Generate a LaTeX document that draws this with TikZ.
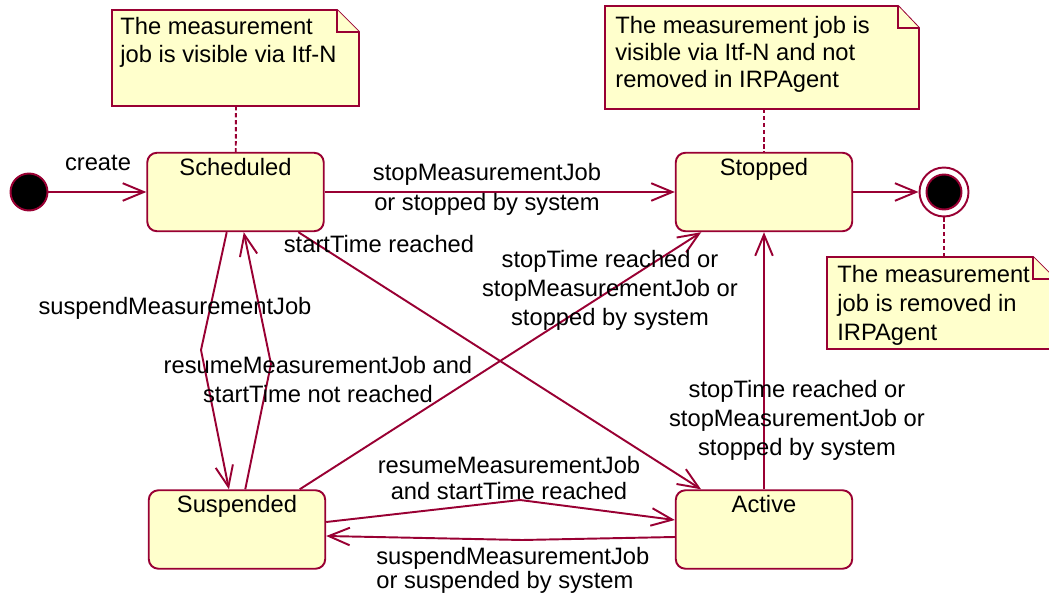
\documentclass[tikz,border=0pt]{standalone}
\usepackage{fontspec}
\setmainfont{Liberation Sans}
\usetikzlibrary{arrows.meta,calc}
\definecolor{umlred}{RGB}{153,0,51}
\definecolor{umlyellow}{RGB}{255,255,204}
\begin{document}
\begin{tikzpicture}[x=0.02cm,y=-0.02cm,
every node/.style={font=\fontsize{13.5}{16.5}\selectfont},
statebox/.style={rectangle,rounded corners=5.5pt,draw=umlred,fill=umlyellow,line width=1.1pt,minimum width=3.53cm,minimum height=1.57cm},
statename/.style={anchor=north,inner sep=3.5pt},
startdot/.style={circle,draw=umlred,fill=black,line width=1.1pt,minimum size=0.74cm,inner sep=0pt},
endring/.style={circle,draw=umlred,fill=white,line width=1.1pt,minimum size=0.98cm,inner sep=0pt},
notebox/.style={draw=umlred,fill=umlyellow,line width=1.1pt},
notetext/.style={anchor=base west,align=left,inner sep=0pt},
trans/.style={draw=umlred,line width=1.1pt,-{Straight Barb[length=12pt,width=10pt]}},
attach/.style={draw=umlred,line width=1.1pt,dash pattern=on 2.5pt off 1.5pt},
tlabel/.style={anchor=base,align=center,inner sep=0pt}]
\useasboundingbox (0,0) rectangle (1049,598);
\draw[notebox] (112,10) -- (337,10) -- (359,32) -- (359,106) -- (112,106) -- cycle;
\draw[notebox] (337,10) |- (359,32);
\node (note1) at (120,63) [notetext] {The measurement\\job is visible via Itf-N};
\draw[notebox] (605,6) -- (898,6) -- (919,28) -- (919,109) -- (605,109) -- cycle;
\draw[notebox] (898,6) |- (919,28);
\node (note2) at (615,88) [notetext] {The measurement job is\\[-1pt]visible via Itf-N and not\\[-1pt]removed in IRPAgent};
\draw[notebox] (827,257) -- (1033,257) -- (1055,279) -- (1055,349) -- (827,349) -- cycle;
\draw[notebox] (1033,257) |- (1055,279);
\node (note3) at (837,340) [notetext] {The measurement\\job is removed in\\IRPAgent};
\coordinate (n1) at (236,106);
\coordinate (n2) at (764,109);
\coordinate (n3) at (944,257);
\node (init) at (29,192) [startdot] {};
\node (sched) at (235.5,192) [statebox,label={[statename]90:Scheduled}] {};
\node (stopped) at (764,192) [statebox,label={[statename]90:Stopped}] {};
\node (susp) at (237,529.5) [statebox,label={[statename]90:Suspended}] {};
\node (active) at (764,529.5) [statebox,label={[statename]90:Active}] {};
\node (final) at (944,192) [endring] {};
\node (finaldot) at (final) [startdot,minimum size=0.7cm] {};
\draw[attach] (n1) -- (sched);
\draw[attach] (n2) -- (stopped);
\draw[attach] (n3) -- (final);
\coordinate (b1) at (201,350);
\coordinate (b2) at (271,364);
\coordinate (b3) at (520,500);
\coordinate (b4) at (522,540);
\draw[trans] (init) -- (sched);
\draw[trans] (sched) -- (stopped);
\draw[trans] (stopped) -- (final);
\draw[trans] (sched) -- (active);
\draw[trans] (susp) -- (stopped);
\draw[trans] (active) -- (stopped);
\draw[trans] (sched) -- (b1) -- (susp);
\draw[trans] (susp) -- (b2) -- (sched);
\draw[trans] ($(susp.east)+(0,-7.5)$) -- (b3) -- ($(active.west)+(0,-9.5)$);
\draw[trans] ($(active.west)+(0,7.5)$) -- (b4) -- ($(susp.east)+(0,6.5)$);
\node (lcreate) at (98,171) [tlabel] {create};
\node (lstop) at (487,211) [tlabel] {stopMeasurementJob\\[1pt]or stopped by system};
\node (lstart) at (379,253) [tlabel] {startTime reached};
\node (lsuspstop) at (610,325) [tlabel] {stopTime reached or\\stopMeasurementJob or\\stopped by system};
\node (lsuspend) at (175,315) [tlabel] {suspendMeasurementJob};
\node (lresume) at (318,402) [tlabel] {resumeMeasurementJob and\\startTime not reached};
\node (lactstop) at (797,455) [tlabel] {stopTime reached or\\stopMeasurementJob or\\stopped by system};
\node (lresume2) at (509,499) [tlabel] {resumeMeasurementJob\\[-1.8pt]and startTime reached};
\node (lsuspend2) at (376,588) [notetext] {suspendMeasurementJob\\[-2.9pt]or suspended by system};
\end{tikzpicture}
\end{document}
